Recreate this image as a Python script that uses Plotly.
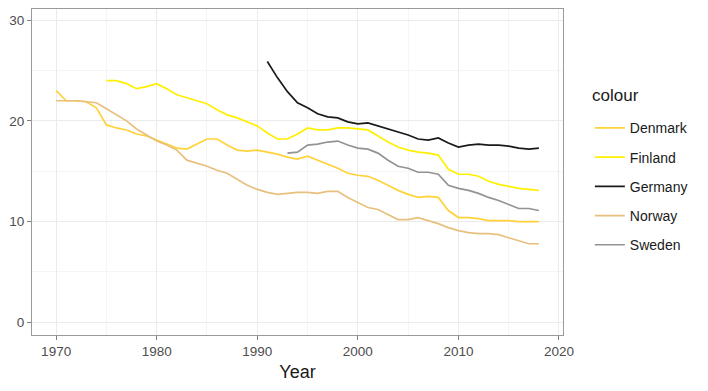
import plotly.graph_objects as go

years_denmark = list(range(1970, 2019))
denmark = [23.0, 22.0, 22.0, 21.9, 21.3, 19.6, 19.3, 19.1, 18.7, 18.5,
           18.1, 17.7, 17.3, 17.2, 17.7, 18.2, 18.2, 17.6, 17.1, 17.0,
           17.1, 16.9, 16.7, 16.4, 16.2, 16.5, 16.1, 15.7, 15.3, 14.8,
           14.6, 14.5, 14.1, 13.6, 13.1, 12.7, 12.4, 12.5, 12.4, 11.1,
           10.4, 10.4, 10.3, 10.1, 10.1, 10.1, 10.0, 10.0, 10.0]

years_finland = list(range(1975, 2019))
finland = [24.0, 24.0, 23.7, 23.2, 23.4, 23.7, 23.2, 22.6, 22.3, 22.0,
           21.7, 21.1, 20.6, 20.3, 19.9, 19.5, 18.8, 18.2, 18.2, 18.7,
           19.3, 19.1, 19.1, 19.3, 19.3, 19.2, 19.1, 18.5, 17.9, 17.4,
           17.1, 16.9, 16.8, 16.6, 15.2, 14.7, 14.7, 14.5, 14.0, 13.7,
           13.5, 13.3, 13.2, 13.1]

years_germany = list(range(1991, 2019))
germany = [25.9, 24.3, 22.9, 21.8, 21.3, 20.7, 20.4, 20.3, 19.9, 19.7,
           19.8, 19.5, 19.2, 18.9, 18.6, 18.2, 18.1, 18.3, 17.8, 17.4,
           17.6, 17.7, 17.6, 17.6, 17.5, 17.3, 17.2, 17.3]

years_norway = list(range(1970, 2019))
norway = [22.0, 22.0, 22.0, 21.9, 21.8, 21.2, 20.6, 20.0, 19.2, 18.6,
          18.0, 17.6, 17.1, 16.1, 15.8, 15.5, 15.1, 14.8, 14.2, 13.6,
          13.2, 12.9, 12.7, 12.8, 12.9, 12.9, 12.8, 13.0, 13.0, 12.4,
          11.9, 11.4, 11.2, 10.7, 10.2, 10.2, 10.4, 10.1, 9.8, 9.4,
          9.1, 8.9, 8.8, 8.8, 8.7, 8.4, 8.1, 7.8, 7.8]

years_sweden = list(range(1993, 2019))
sweden = [16.8, 16.9, 17.6, 17.7, 17.9, 18.0, 17.6, 17.3, 17.2, 16.8,
          16.1, 15.5, 15.3, 14.9, 14.9, 14.7, 13.6, 13.3, 13.1, 12.8,
          12.4, 12.1, 11.7, 11.3, 11.3, 11.1]

x_ticks = [1970, 1980, 1990, 2000, 2010, 2020]
y_ticks = [0, 10, 20, 30]

series = [
    ("Denmark", years_denmark, denmark, "#FFD23A"),
    ("Finland", years_finland, finland, "#FFEF00"),
    ("Germany", years_germany, germany, "#1A1A1A"),
    ("Norway", years_norway, norway, "#E8C07E"),
    ("Sweden", years_sweden, sweden, "#939393"),
]

fig = go.Figure()
for name, xs, ys, col in series:
    fig.add_trace(go.Scatter(x=xs, y=ys, mode="lines", name=name,
                             legendgroup=name,
                             line=dict(color=col, width=1.7)))

font_family = "Liberation Sans, Arial, sans-serif"
axis_common = dict(
    showline=True, linecolor="#9A9A9A", linewidth=1, mirror=True,
    ticks="outside", ticklen=4, tickcolor="#7F7F7F", tickwidth=1,
    showgrid=True, gridcolor="#EBEBEB", gridwidth=1, zeroline=False,
    automargin=False,
    tickfont=dict(family=font_family, size=13.5, color="#4D4D4D"),
)
fig.update_xaxes(**axis_common, range=[1967.6, 2020.4], tickvals=x_ticks,
                 minor=dict(tickvals=[1965, 1975, 1985, 1995, 2005, 2015],
                            showgrid=True, gridcolor="#F5F5F5", ticklen=0),
                 title=dict(text="Year", font=dict(family=font_family, size=18, color="#1A1A1A"),
                            standoff=7))
fig.update_yaxes(**axis_common, range=[-1.26, 31.11], tickvals=y_ticks,
                 minor=dict(tickvals=[5, 15, 25],
                            showgrid=True, gridcolor="#F5F5F5", ticklen=0))

fig.add_annotation(text="colour", xref="paper", yref="paper",
                   x=1.0508, y=0.734, xanchor="left", yanchor="middle",
                   showarrow=False,
                   font=dict(family=font_family, size=17, color="#1A1A1A"))

fig.update_layout(
    width=700, height=383,
    margin=dict(l=24, r=145, t=1, b=56),
    plot_bgcolor="white", paper_bgcolor="white",
    font=dict(family=font_family, color="#1A1A1A"),
    legend=dict(
        font=dict(family=font_family, size=14, color="#1A1A1A"),
        x=1.0506, xanchor="left", y=0.683, yanchor="top",
        tracegroupgap=8, itemwidth=30,
        bgcolor="rgba(0,0,0,0)",
    ),
)

fig.write_html("out.html")
